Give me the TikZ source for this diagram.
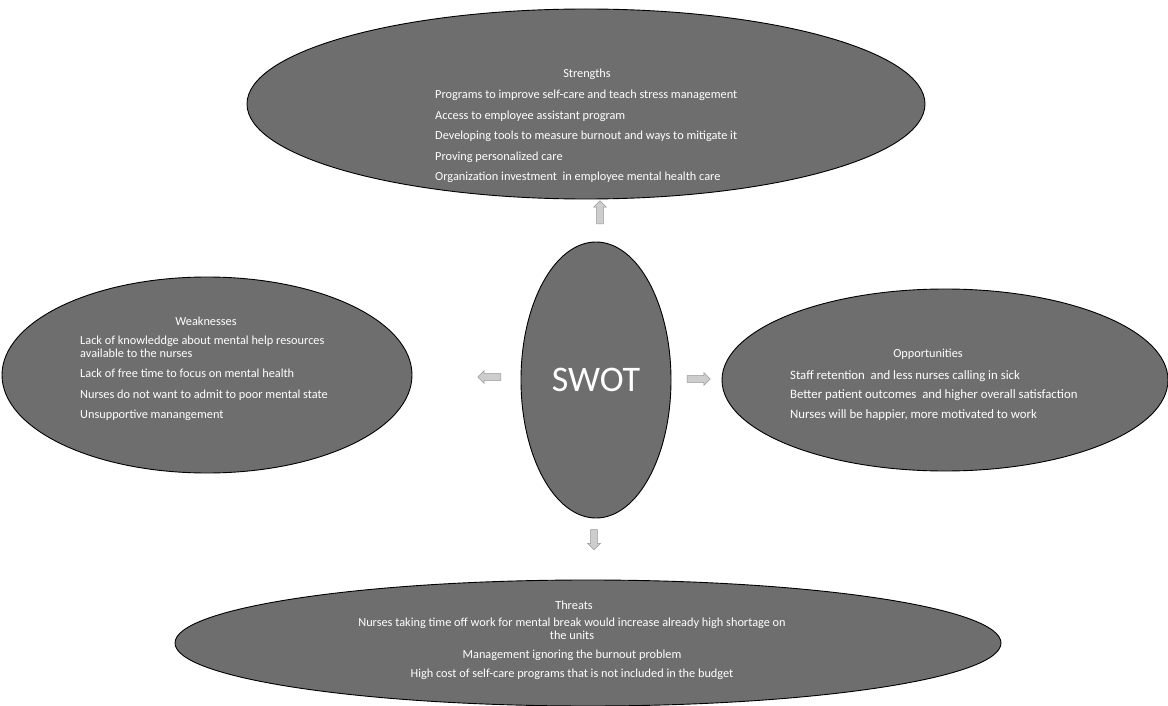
\documentclass[tikz,border=0pt]{standalone}
\usepackage{fontspec}
\setmainfont{Carlito}
\usetikzlibrary{shapes.geometric,shapes.arrows}
\definecolor{swfill}{RGB}{110,110,110}
\definecolor{arrfill}{RGB}{205,205,205}
\definecolor{arrdraw}{RGB}{150,150,150}
\begin{document}
\begin{tikzpicture}[x=1pt,y=-1pt,
  blob/.style={ellipse,draw=black,line width=0.9pt,fill=swfill,inner sep=0pt},
  ttl/.style={text=white,font=\fontsize{12.3}{14}\selectfont,inner sep=0pt},
  body/.style={text=white,font=\fontsize{12.3}{20.5}\selectfont,align=left,inner sep=0pt,anchor=north west},
  cbody/.style={text=white,font=\fontsize{12.3}{19}\selectfont,align=center,inner sep=0pt,anchor=north},
  blk/.style={single arrow,draw=arrdraw,fill=arrfill,line width=0.5pt,minimum height=23pt,inner sep=3.2pt,single arrow head extend=3pt}]
\useasboundingbox (0,0) rectangle (1168,706);

% ellipses
\node[blob,minimum width=678pt,minimum height=190pt] (S) at (586,104) {};
\node[blob,minimum width=410pt,minimum height=196pt] (W) at (207,375) {};
\node[blob,minimum width=446pt,minimum height=182pt] (O) at (945,380) {};
\node[blob,minimum width=826pt,minimum height=126pt] (T) at (588,643) {};
\node[blob,minimum width=150pt,minimum height=276pt] (C) at (596,380) {};

% centre text
\node[text=white,font=\fontsize{36}{40}\selectfont,inner sep=0pt] (Ct) at (C.center) {SWOT};

% Strengths
\node[ttl] (St) at (587,74) {Strengths};
\node[body] (Sb) at (435,90) {Programs to improve self-care and teach stress management\\
Access to employee assistant program\\
Developing tools to measure burnout and ways to mitigate it\\
Proving personalized care\\
Organization investment~ in employee mental health care};

% Weaknesses
\node[ttl] (Wt) at (206,321) {Weaknesses};
\node[body] (Wb) at (80,336) {Lack of knowleddge about mental help resources\\[-8pt]
available to the nurses\\
Lack of free time to focus on mental health\\
Nurses do not want to admit to poor mental state\\
Unsupportive manangement};

% Opportunities
\node[ttl] (Ot) at (928,354) {Opportunities};
\node[body,font=\fontsize{12.8}{19.5}\selectfont] (Ob) at (790,370) {Staff retention~ and less nurses calling in sick\\
Better patient outcomes~ and higher overall satisfaction\\
Nurses will be happier, more motivated to work};

% Threats
\node[ttl] (Tt) at (574,605) {Threats};
\node[cbody] (Tb) at (572,618) {Nurses taking time off work for mental break would increase already high shortage on\\[-6pt]
the units\\
Management ignoring the burnout problem\\
High cost of self-care programs that is not included in the budget};

% block arrows
\node[blk,shape border rotate=90] (au) at (600,214) {};
\node[blk,shape border rotate=180] (al) at (491,377) {};
\node[blk] (ar) at (697,379) {};
\node[blk,shape border rotate=270,minimum height=20pt] (ad) at (594,538) {};
\end{tikzpicture}
\end{document}
